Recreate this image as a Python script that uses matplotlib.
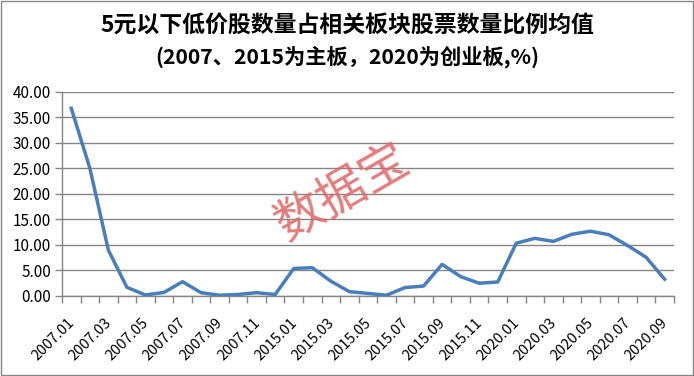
import numpy as np
import matplotlib.pyplot as plt
import matplotlib.transforms as mtransforms

plt.rcParams['font.family'] = ['Noto Sans CJK SC', 'DejaVu Sans']
plt.rcParams['axes.unicode_minus'] = False

# ========== 数据 ==========
months = (["2007.%02d" % m for m in range(1, 13)]
          + ["2015.%02d" % m for m in range(1, 13)]
          + ["2020.%02d" % m for m in range(1, 10)])
ratio = [36.8, 25.1, 9.0, 1.7, 0.2, 0.7, 2.8, 0.65, 0.15, 0.3, 0.65, 0.3,
         5.4, 5.55, 2.9, 0.85, 0.5, 0.15, 1.65, 1.95, 6.2, 3.8, 2.5, 2.75,
         10.35, 11.3, 10.7, 12.1, 12.7, 12.0, 9.9, 7.6, 3.3]
y_ticks = [0, 5, 10, 15, 20, 25, 30, 35, 40]

GRAY = '#868686'

fig = plt.figure(figsize=(6.94, 3.76), dpi=100)
ax = fig.add_axes([0.0893, 0.2128, 0.8817, 0.5427])

x = np.arange(len(months))
ax.plot(x, ratio, color='#4A7EBB', linewidth=2.5, solid_joinstyle='round', zorder=3)

ax.set_xlim(-0.5, len(months) - 0.5)
ax.set_ylim(0, 40)
ax.set_yticks(y_ticks)
ax.set_yticklabels(["%.2f" % v for v in y_ticks], fontsize=11)
ax.yaxis.grid(True, color=GRAY, linewidth=1)
ax.set_axisbelow(True)

# 刻度线在类别边界, 标签隔一个显示
ax.set_xticks(np.arange(-0.5, len(months), 1.0))
ax.set_xticklabels([])
ax.set_xticks(x[::2], minor=True)
ax.set_xticklabels(months[::2], minor=True, rotation=45, ha='right', va='top', fontsize=10.5)
ax.tick_params(axis='x', which='major', length=5, color=GRAY, width=1)
ax.tick_params(axis='x', which='minor', length=0, pad=14)
ax.tick_params(axis='y', length=5, color=GRAY, width=1, pad=3)

offset = mtransforms.ScaledTranslation(6 / 100, 0, fig.dpi_scale_trans)
for lab in ax.get_xticklabels(minor=True):
    lab.set_transform(lab.get_transform() + offset)

for side in ['top', 'right']:
    ax.spines[side].set_visible(False)
for side in ['left', 'bottom']:
    ax.spines[side].set_color(GRAY)
    ax.spines[side].set_linewidth(1)

fig.text(0.5, 0.934, "5元以下低价股数量占相关板块股票数量比例均值",
         ha='center', va='center', fontsize=16.5, fontweight='bold')
fig.text(0.5, 0.848, "(2007、2015为主板，2020为创业板,%)",
         ha='center', va='center', fontsize=15.3, fontweight='bold')

# 水印
fig.text(0.494, 0.487, "数据宝", ha='center', va='center', fontsize=35,
         color='#E06666', alpha=0.85, rotation=30)

# 外边框
fig.patches.append(plt.Rectangle((0.001, 0.002), 0.997, 0.995, transform=fig.transFigure,
                                 fill=False, edgecolor=GRAY, linewidth=1))

plt.savefig("out.png", dpi=100)
